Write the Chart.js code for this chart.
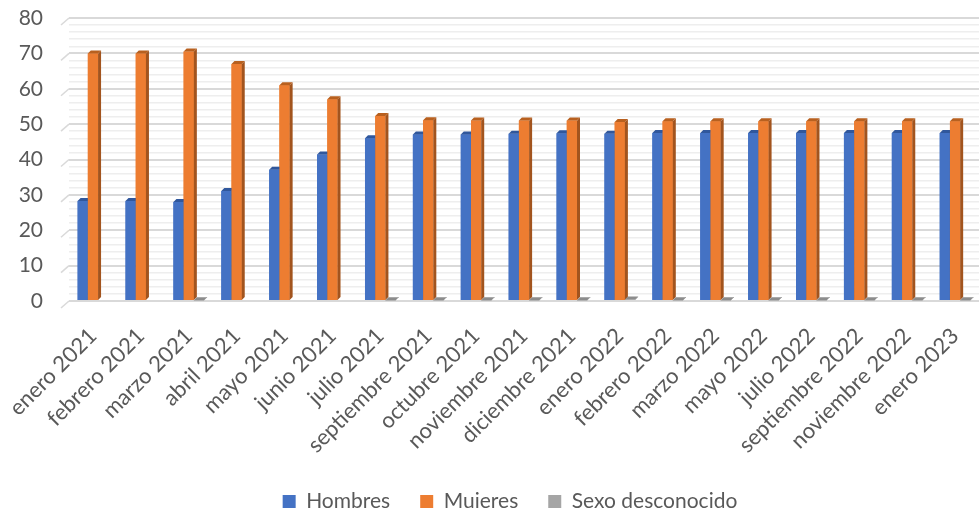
<!DOCTYPE html>
<html>
<head>
<meta charset="utf-8">
<script src="https://cdn.jsdelivr.net/npm/chart.js@4/dist/chart.umd.min.js"></script>
<style>
  html, body { margin: 0; padding: 0; background: #fff; }
  #wrap { width: 979px; height: 508px; }
</style>
</head>
<body>
<div id="wrap"><canvas id="chart"></canvas></div>
<script>
const categories = ['enero 2021', 'febrero 2021', 'marzo 2021', 'abril 2021', 'mayo 2021', 'junio 2021',
    'julio 2021', 'septiembre 2021', 'octubre 2021', 'noviembre 2021', 'diciembre 2021', 'enero 2022',
    'febrero 2022', 'marzo 2022', 'mayo 2022', 'julio 2022', 'septiembre 2022', 'noviembre 2022', 'enero 2023'];
const hombres = [28.3, 28.3, 28.0, 31.1, 37.1, 41.4, 46.0, 47.1, 47.1, 47.3, 47.4, 47.3,
    47.5, 47.5, 47.5, 47.5, 47.5, 47.5, 47.5];
const mujeres = [70.0, 70.0, 70.5, 67.0, 61.0, 57.0, 52.3, 51.1, 51.0, 51.0, 51.0, 50.6,
    50.8, 50.8, 50.8, 50.8, 50.8, 50.8, 50.8];
const desconocido = [0, 0, 0.2, 0, 0, 0, 0.2, 0.2, 0.2, 0.2, 0.2, 0.4,
    0.2, 0.2, 0.2, 0.2, 0.2, 0.2, 0.2];
const yTicks = [0, 10, 20, 30, 40, 50, 60, 70, 80];

// front / side / top colours for the fake 3D columns
const shades = [
    { front: '#4472C4', side: '#2c4f8e', top: '#30579c' },
    { front: '#ED7D31', side: '#a2541e', top: '#b8601f' },
    { front: '#A5A5A5', side: '#7a7a7a', top: '#8c8c8c' }
];
const DX = 3, DY = 3;

const columns3d = {
    id: 'columns3d',
    afterLayout(chart) {
        // nudge the legend a little to the right
        chart.legend.left += 10;
        chart.legend.right += 10;
    },
    beforeDatasetsDraw(chart) {
        // little slanted strokes of the side wall
        const { ctx, chartArea } = chart;
        const y = chart.scales.y;
        ctx.save();
        ctx.strokeStyle = '#d9d9d9';
        ctx.lineWidth = 1.5;
        yTicks.forEach(v => {
            const py = y.getPixelForValue(v);
            ctx.beginPath();
            ctx.moveTo(chartArea.left - 8, py + 7);
            ctx.lineTo(chartArea.left, py);
            ctx.stroke();
        });
        ctx.restore();
    },
    afterDatasetsDraw(chart) {
        const ctx = chart.ctx;
        ctx.save();
        chart.data.datasets.forEach((ds, i) => {
            const meta = chart.getDatasetMeta(i);
            const c = shades[i];
            meta.data.forEach((bar, j) => {
                if (!ds.data[j]) return;
                const l = bar.x - bar.width / 2, r = bar.x + bar.width / 2;
                const t = bar.y, b = bar.base;
                ctx.fillStyle = c.front;
                ctx.fillRect(l, t, r - l, b - t);
                ctx.fillStyle = c.side;
                ctx.beginPath();
                ctx.moveTo(r, t); ctx.lineTo(r + DX, t - DY);
                ctx.lineTo(r + DX, b - DY); ctx.lineTo(r, b);
                ctx.closePath(); ctx.fill();
                ctx.fillStyle = c.top;
                ctx.beginPath();
                ctx.moveTo(l, t); ctx.lineTo(l + DX, t - DY);
                ctx.lineTo(r + DX, t - DY); ctx.lineTo(r, t);
                ctx.closePath(); ctx.fill();
            });
        });
        ctx.restore();
    }
};

const font = 'Lato';

new Chart(document.getElementById('chart'), {
    type: 'bar',
    data: {
        labels: categories,
        datasets: [
            { label: 'Hombres', data: hombres, backgroundColor: shades[0].front },
            { label: 'Mujeres', data: mujeres, backgroundColor: shades[1].front },
            { label: 'Sexo desconocido', data: desconocido, backgroundColor: shades[2].front }
        ]
    },
    options: {
        responsive: true,
        maintainAspectRatio: false,
        animation: false,
        layout: { padding: { top: 18, left: 14, right: -7, bottom: -14 } },
        datasets: { bar: { barPercentage: 1, categoryPercentage: 0.64 } },
        scales: {
            x: {
                grid: { display: false },
                border: { display: false },
                ticks: {
                    color: '#595959', font: { family: font, size: 22 },
                    minRotation: 45, maxRotation: 45, autoSkip: false, padding: 14
                },
                // rotated labels may hang past the plot edges
                afterFit(scale) {
                    scale.paddingLeft = 0;
                    scale.paddingRight = 0;
                    scale.height = 160;
                }
            },
            y: {
                min: 0, max: 80,
                border: { display: false },
                grid: {
                    drawTicks: false,
                    color: c => c.tick.value % 10 === 0 ? '#d9d9d9' : '#eeeeee',
                    lineWidth: c => c.tick.value % 10 === 0 ? 2 : 1.5
                },
                ticks: {
                    stepSize: 2, autoSkip: false, padding: 26,
                    color: '#595959', font: { family: font, size: 21 },
                    callback: v => yTicks.includes(v) ? v : ''
                },
                afterFit(scale) {
                    scale.width = 55;
                    scale.paddingTop = 0;
                    scale.paddingBottom = 0;
                }
            }
        },
        plugins: {
            legend: {
                position: 'bottom',
                labels: {
                    color: '#595959', font: { family: font, size: 21 },
                    boxWidth: 13, boxHeight: 13, padding: 30
                }
            },
            tooltip: { enabled: false }
        }
    },
    plugins: [columns3d]
});
</script>
</body>
</html>
